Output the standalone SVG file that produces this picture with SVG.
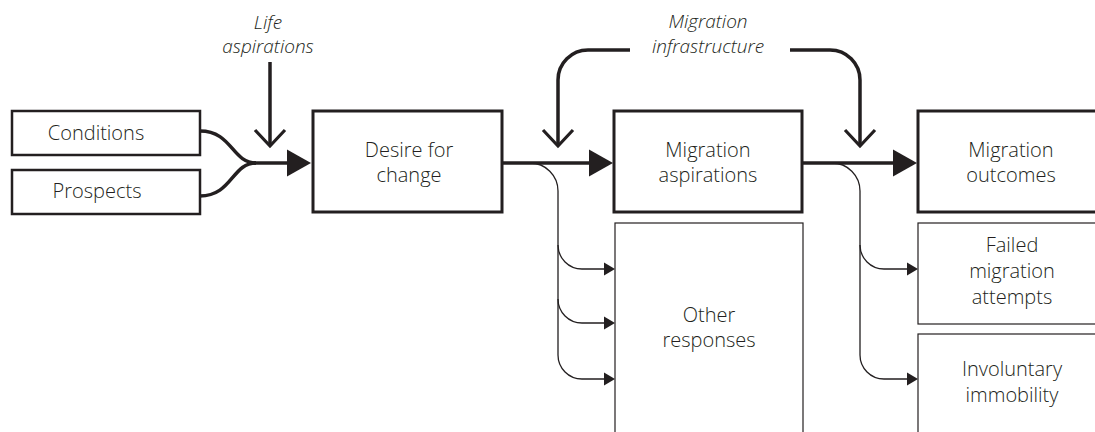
<svg xmlns="http://www.w3.org/2000/svg" width="1095" height="432" viewBox="0 0 1095 432">
<style>
.box{fill:#fff;stroke:#231f20}
.thick{stroke-width:3}
.mid{stroke-width:2.5}
.thin{stroke-width:1.2}
text{font-family:"Open Sans","Liberation Sans",sans-serif;font-size:20px;font-weight:300;fill:#231f20;text-anchor:middle}
.lbl{font-style:italic;font-size:19px}
.main{fill:none;stroke:#231f20;stroke-width:3.5}
.br{fill:none;stroke:#231f20;stroke-width:1.3}
</style>
<defs>
<marker id="big" markerUnits="userSpaceOnUse" viewBox="0 0 24 27" markerWidth="24" markerHeight="27" refX="0" refY="13.5" orient="auto" overflow="visible">
<path d="M0,0 L24,13.5 L0,27 Z" fill="#231f20"/>
</marker>
<marker id="small" markerUnits="userSpaceOnUse" viewBox="0 0 11 13" markerWidth="11" markerHeight="13" refX="0" refY="6.5" orient="auto" overflow="visible">
<path d="M0,0 L11,6.5 L0,13 Z" fill="#231f20"/>
</marker>
<marker id="chev" markerUnits="userSpaceOnUse" viewBox="-18 -18 20 36" markerWidth="20" markerHeight="36" refX="0" refY="0" orient="auto" overflow="visible">
<path d="M-16,-15 L0,0 L-16,15" fill="none" stroke="#231f20" stroke-width="3.2"/>
</marker>
</defs>

<g id="connectors">
<path class="main" d="M200,131 C232,131 232,163 256,163"/>
<path class="main" d="M200,196 C232,196 232,163 256,163"/>
<path class="main" d="M254,163 H287" marker-end="url(#big)"/>
<path class="main" d="M270,62 V146" marker-end="url(#chev)"/>
<path class="main" d="M502,163 H589" marker-end="url(#big)"/>
<path class="main" d="M802,163 H893" marker-end="url(#big)"/>
<path class="main" d="M630,50 H588 A30,30 0 0 0 558,80 V146" marker-end="url(#chev)"/>
<path class="main" d="M790,50 H830 A30,30 0 0 1 860,80 V146" marker-end="url(#chev)"/>
<path class="br" d="M530,163 A28,28 0 0 1 558,191 V355 A24,24 0 0 0 582,379 H604" marker-end="url(#small)"/>
<path class="br" d="M558,245 A24,24 0 0 0 582,269 H604" marker-end="url(#small)"/>
<path class="br" d="M558,299 A24,24 0 0 0 582,323 H604" marker-end="url(#small)"/>
<path class="br" d="M832,163 A28,28 0 0 1 860,191 V355 A24,24 0 0 0 884,379 H907" marker-end="url(#small)"/>
<path class="br" d="M860,245 A24,24 0 0 0 884,269 H907" marker-end="url(#small)"/>
</g>

<g id="life-aspirations">
<text class="lbl" x="268" y="29">Life</text>
<text class="lbl" x="268" y="53">aspirations</text>
</g>
<g id="migration-infrastructure">
<text class="lbl" x="708" y="28">Migration</text>
<text class="lbl" x="708" y="53">infrastructure</text>
</g>

<g id="conditions">
<rect class="box mid" x="12" y="111" width="188" height="44"/>
<text x="96" y="140">Conditions</text>
</g>
<g id="prospects">
<rect class="box mid" x="12" y="170" width="188" height="44"/>
<text x="97" y="198">Prospects</text>
</g>
<g id="desire">
<rect class="box thick" x="313" y="111" width="189" height="101"/>
<text x="409" y="157">Desire for</text>
<text x="409" y="182">change</text>
</g>
<g id="migration-aspirations">
<rect class="box thick" x="614" y="111" width="188" height="101"/>
<text x="708" y="157">Migration</text>
<text x="708" y="182">aspirations</text>
</g>
<g id="migration-outcomes">
<rect class="box thick" x="918" y="111" width="188" height="101"/>
<text x="1011" y="157">Migration</text>
<text x="1011" y="182">outcomes</text>
</g>
<g id="other-responses">
<rect class="box thin" x="615" y="223" width="188" height="220"/>
<text x="709" y="322">Other</text>
<text x="709" y="347">responses</text>
</g>
<g id="failed">
<rect class="box thin" x="918" y="223" width="188" height="101"/>
<text x="1012" y="252">Failed</text>
<text x="1012" y="278">migration</text>
<text x="1012" y="304">attempts</text>
</g>
<g id="involuntary">
<rect class="box thin" x="918" y="334" width="188" height="110"/>
<text x="1012" y="376">Involuntary</text>
<text x="1012" y="402">immobility</text>
</g>
</svg>
